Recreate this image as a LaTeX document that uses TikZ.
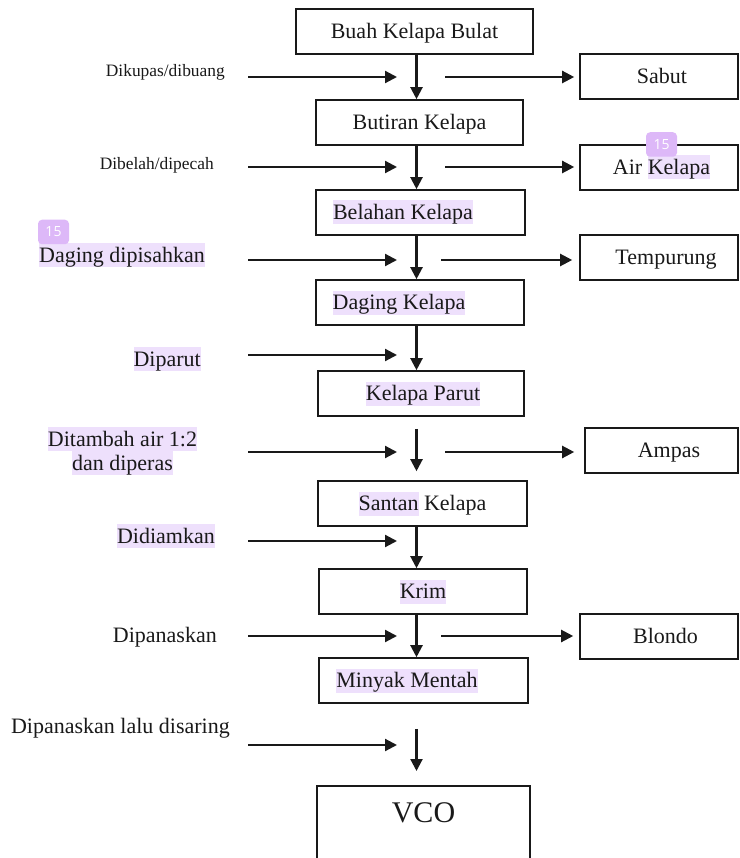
\documentclass[tikz,border=0pt]{standalone}
\usepackage{fontspec}
\setmainfont{Liberation Serif}
\newfontfamily\badgefont{Open Sans}
\usetikzlibrary{arrows.meta,calc}
\definecolor{hlc}{RGB}{238,224,252}
\definecolor{badgec}{RGB}{221,184,248}
\definecolor{ink}{RGB}{25,25,25}
\newcommand{\hl}[1]{{\setlength{\fboxsep}{0pt}\colorbox{hlc}{\rule[-5pt]{0pt}{24pt}#1}}}
\newcommand{\ph}[1]{\rule[-5pt]{0pt}{24pt}#1}
\newcommand{\sh}[2]{\hspace*{#1}#2}
\tikzset{
  box/.style={draw=ink, line width=1.6pt, inner sep=0pt, text=ink,
    minimum height=45pt, font=\fontsize{22}{24}\selectfont},
  lbl/.style={inner sep=0pt, text=ink, font=\fontsize{22}{24}\selectfont},
  slbl/.style={inner sep=0pt, text=ink, font=\fontsize{17.4}{20}\selectfont},
  arr/.style={draw=ink, line width=2.2pt, -{Triangle[length=12pt,width=12pt]}},
  badge/.style={fill=badgec, rounded corners=4pt, text=white, inner sep=0pt,
    minimum width=31pt, minimum height=24.5pt,
    font=\badgefont\fontsize{14}{14}\selectfont}
}
\begin{document}
\begin{tikzpicture}[x=1pt,y=-1pt]
\useasboundingbox (0,0) rectangle (739,858);
\clip (0,0) rectangle (739,858);

% main column
\node[box, minimum width=237pt] (b1) at (414.5,31.5) {\ph{Buah Kelapa Bulat}};
\node[box, minimum width=207pt] (b2) at (419.5,122.5) {\ph{Butiran Kelapa}};
\node[box, minimum width=209pt] (b3) at (420.5,212.5) {\sh{-35pt}{\hl{Belahan Kelapa}}};
\node[box, minimum width=208pt] (b4) at (420,302.5) {\sh{-42pt}{\hl{Daging Kelapa}}};
\node[box, minimum width=206pt] (b5) at (421,393.5) {\sh{4pt}{\hl{Kelapa Parut}}};
\node[box, minimum width=209pt] (b6) at (422.5,503.5) {\hl{Santan} Kelapa};
\node[box, minimum width=208pt] (b7) at (423,591.5) {\hl{Krim}};
\node[box, minimum width=209pt] (b8) at (423.5,680.5) {\sh{-33pt}{\hl{Minyak Mentah}}};
\node[box, minimum width=213pt, minimum height=100pt, anchor=north,
  font=\fontsize{30}{32}\selectfont, text height=20pt, text depth=46pt] (vco) at (423.5,785) {VCO};

% side products
\node[box, minimum width=158pt] (sabut) at (659,76.5) {\sh{6pt}{\ph{Sabut}}};
\node[box, minimum width=158pt] (air) at (659,167.5) {\sh{5pt}{\ph{Air }\hl{Kelapa}}};
\node[box, minimum width=158pt] (temp) at (659,257.5) {\sh{14pt}{\ph{Tempurung}}};
\node[box, minimum width=153pt] (ampas) at (661.5,450.5) {\sh{15pt}{\ph{Ampas}}};
\node[box, minimum width=158pt] (blondo) at (659,636.5) {\sh{13pt}{\ph{Blondo}}};

% process labels
\node[slbl, anchor=base east] (l1) at (225,77) {Dikupas/dibuang};
\node[slbl, anchor=base east] (l2) at (214,169.5) {Dibelah/dipecah};
\node[lbl, anchor=base east] (l3) at (205,262) {\hl{Daging dipisahkan}};
\node[lbl, anchor=base east] (l4) at (201,366) {\hl{Diparut}};
\node[lbl, anchor=north, align=center] (l5) at (122.5,427) {\hl{Ditambah air 1:2}\\\hl{dan diperas}};
\node[lbl, anchor=base east] (l6) at (215,543) {\hl{Didiamkan}};
\node[lbl, anchor=base east] (l7) at (217,642) {\ph{Dipanaskan}};
\node[lbl, anchor=base east] (l8) at (230,733) {\ph{Dipanaskan lalu disaring}};

% vertical flow arrows
\coordinate (ax) at (416.5,0);
\draw[arr] (b1.south -| ax) -- (b2.north -| ax);
\draw[arr] (b2.south -| ax) -- (b3.north -| ax);
\draw[arr] (b3.south -| ax) -- (b4.north -| ax);
\draw[arr] (b4.south -| ax) -- (b5.north -| ax);
\draw[arr] ($(b5.south -| ax)+(0,12)$) -- ($(b6.north -| ax)+(0,-9)$);
\draw[arr] (b6.south -| ax) -- (b7.north -| ax);
\draw[arr] (b7.south -| ax) -- (b8.north -| ax);
\draw[arr] ($(b8.south -| ax)+(0,25)$) -- ($(vco.north -| ax)+(0,-14)$);

% left input arrows
\foreach \i/\y in {1/77,2/167,3/260,4/355,5/452,6/541,7/636,8/745}{
  \coordinate (ls\i) at (248,\y);
  \coordinate (le\i) at (397,\y);
  \draw[arr] (ls\i) -- (le\i);
}

% right output arrows
\coordinate (rs1) at (445,77);
\coordinate (rs2) at (445,167);
\coordinate (rs3) at (441,260);
\coordinate (rs4) at (445,452);
\coordinate (rs5) at (441,636);
\draw[arr, shorten >=5pt] (rs1) -- (rs1 -| sabut.west);
\draw[arr, shorten >=5pt] (rs2) -- (rs2 -| air.west);
\draw[arr, shorten >=7pt] (rs3) -- (rs3 -| temp.west);
\draw[arr, shorten >=10pt] (rs4) -- (rs4 -| ampas.west);
\draw[arr, shorten >=6pt] (rs5) -- (rs5 -| blondo.west);

% annotation badges
\node[badge] (bd1) at (53.5,232) {15};
\node[badge] (bd2) at (661.5,144.5) {15};
\end{tikzpicture}
\end{document}
